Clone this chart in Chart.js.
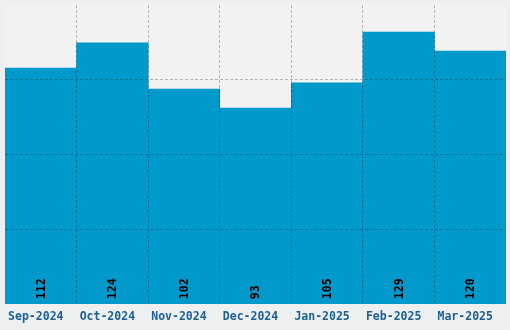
<!DOCTYPE html>
<html><head><meta charset="utf-8">
<script src="https://cdn.jsdelivr.net/npm/chart.js@4"></script>
<style>html,body{margin:0;padding:0;background:#eef0f0;}#wrap{width:510px;height:330px;}</style>
</head><body><div id="wrap"><canvas id="c" width="510" height="330"></canvas></div>
<script>
const categories = ["Sep-2024","Oct-2024","Nov-2024","Dec-2024","Jan-2025","Feb-2025","Mar-2025"];
const values = [112,124,102,93,105,129,120];
const yMax = Math.max(...values) * 1.1;

const plotBg = {
  id: 'plotBg',
  beforeDraw(chart){
    const {ctx, chartArea:a} = chart;
    ctx.save(); ctx.fillStyle = '#f2f2f2';
    ctx.fillRect(a.left, a.top, a.right-a.left, a.bottom-a.top);
    ctx.restore();
  }
};
const valueLabels = {
  id: 'valueLabels',
  afterDraw(chart){
    const {ctx} = chart;
    const meta = chart.getDatasetMeta(0);
    ctx.save();
    ctx.font = 'bold 11.5px "DejaVu Sans Mono"';
    ctx.fillStyle = '#000';
    ctx.textAlign = 'left'; ctx.textBaseline = 'middle';
    meta.data.forEach((bar, i) => {
      ctx.save();
      ctx.translate(bar.x + 1, chart.chartArea.bottom - 5);
      ctx.rotate(-Math.PI/2);
      ctx.fillText(String(values[i]), 0, 0);
      ctx.restore();
    });
    ctx.restore();
  }
};
const gridCol = 'rgba(0,0,0,0.25)';
const clear = 'rgba(0,0,0,0)';
new Chart(document.getElementById('c'), {
  type: 'bar',
  data: { labels: categories, datasets: [{ data: values, backgroundColor: '#0099cb', borderWidth: 0, barPercentage: 1, categoryPercentage: 1 }] },
  options: {
    responsive: false, animation: false, devicePixelRatio: 1,
    layout: { padding: { left: 5, right: 4, top: 5, bottom: 0 } },
    plugins: { legend: { display: false }, tooltip: { enabled: false } },
    scales: {
      x: {
        offset: true,
        grid: { z: 1, color: (c) => (c.type !== 'tick' || c.index === 0) ? clear : gridCol, drawTicks: false, offset: true },
        border: { display: false, dash: [3,2] },
        ticks: { color: '#1a5f96', font: { family: '"DejaVu Sans Mono"', weight: 'bold', size: 11.5 }, padding: 6, labelOffset: -5, maxRotation: 0, autoSkip: false }
      },
      y: {
        min: 0, max: yMax,
        grid: { z: 1, color: (c) => (c.type !== 'tick' || c.index === 0 || c.index === 4) ? clear : gridCol, drawTicks: false },
        border: { display: false, dash: [3,2] },
        ticks: { display: false, count: 5 }
      }
    }
  },
  plugins: [plotBg, valueLabels]
});
</script></body></html>
